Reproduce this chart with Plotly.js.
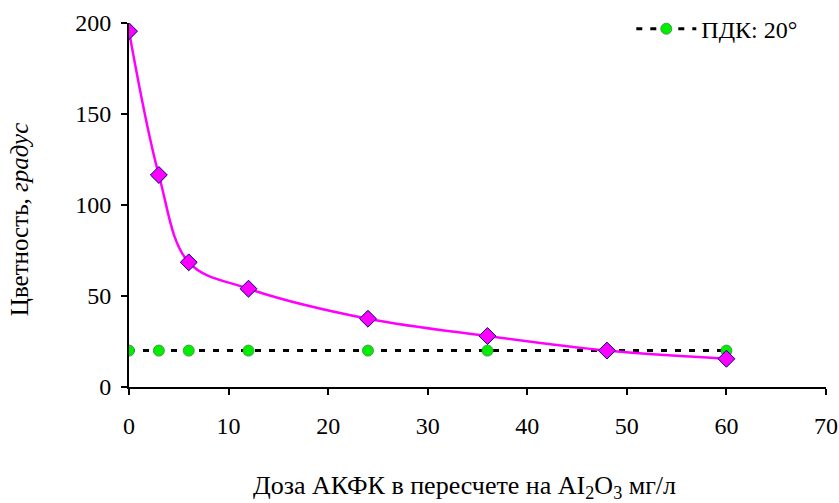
<!DOCTYPE html>
<html>
<head>
<meta charset="utf-8">
<script src="https://cdn.plot.ly/plotly-3.0.1.min.js"></script>
<style>html,body{margin:0;padding:0;background:#fff;}#chart{width:839px;height:503px;}</style>
</head>
<body>
<div id="chart"></div>
<script>
var doses = [0, 3, 6, 12, 24, 36, 48, 60];
var colour = [195.5, 116.5, 68.5, 54, 37.5, 28, 20, 15.5];
var pdkDoses = [0, 3, 6, 12, 24, 36, 48, 60];
var pdkValues = [20, 20, 20, 20, 20, 20, 20, 20];
var pdkName = 'ПДК: 20°';
var xTitle = 'Доза АКФК в пересчете на AI<sub>2</sub>O<sub>3</sub> мг/л';
var yTitle = 'Цветность, <i>градус</i>';

var font = 'Liberation Serif';

var traces = [
  {
    x: pdkDoses, y: pdkValues, name: pdkName, mode: 'lines+markers', type: 'scatter',
    line: {color: '#000', width: 3, dash: '6px,8px'},
    marker: {symbol: 'circle', size: 11, color: '#00ee00', line: {color: '#4a9a4a', width: 1}},
    showlegend: true
  },
  {
    x: doses, y: colour, name: 'Цветность', mode: 'lines+markers', type: 'scatter',
    line: {color: '#ff00ff', width: 2.5, shape: 'spline', smoothing: 1},
    marker: {symbol: 'diamond', size: 13, color: '#ff00ff', line: {color: '#000080', width: 1}},
    showlegend: false
  }
];

var tickFont = {family: font, size: 24, color: '#000'};

var layout = {
  width: 839, height: 503,
  margin: {l: 129, r: 13, t: 23, b: 116, autoexpand: false},
  paper_bgcolor: '#fff', plot_bgcolor: '#fff',
  font: {family: font, size: 22, color: '#000'},
  showlegend: true,
  legend: {x: 0.966, xanchor: 'right', y: 1.045, yanchor: 'top', bgcolor: 'rgba(0,0,0,0)', font: {family: font, size: 24}, itemwidth: 60},
  xaxis: {
    range: [0, 70], dtick: 10, showgrid: false, zeroline: false,
    showline: true, linecolor: '#000', linewidth: 2,
    ticks: 'outside', ticklen: 6, tickwidth: 2, tickcolor: '#000',
    ticklabelstandoff: 10, tickfont: tickFont
  },
  yaxis: {
    range: [0, 200], dtick: 50, showgrid: false, zeroline: false,
    showline: true, linecolor: '#000', linewidth: 2,
    ticks: 'outside', ticklen: 6, tickwidth: 2, tickcolor: '#000',
    ticklabelstandoff: 5, tickfont: tickFont
  },
  annotations: [
    {
      text: yTitle, xref: 'paper', yref: 'paper', x: -0.157, y: 0.46,
      xanchor: 'center', yanchor: 'middle', textangle: -90, showarrow: false,
      font: {family: font, size: 25}
    },
    {
      text: xTitle, xref: 'paper', yref: 'paper', x: 0.481, y: -0.275,
      xanchor: 'center', yanchor: 'middle', showarrow: false,
      font: {family: font, size: 26}
    }
  ]
};

Plotly.newPlot('chart', traces, layout, {displayModeBar: false, staticPlot: true});
</script>
</body>
</html>
